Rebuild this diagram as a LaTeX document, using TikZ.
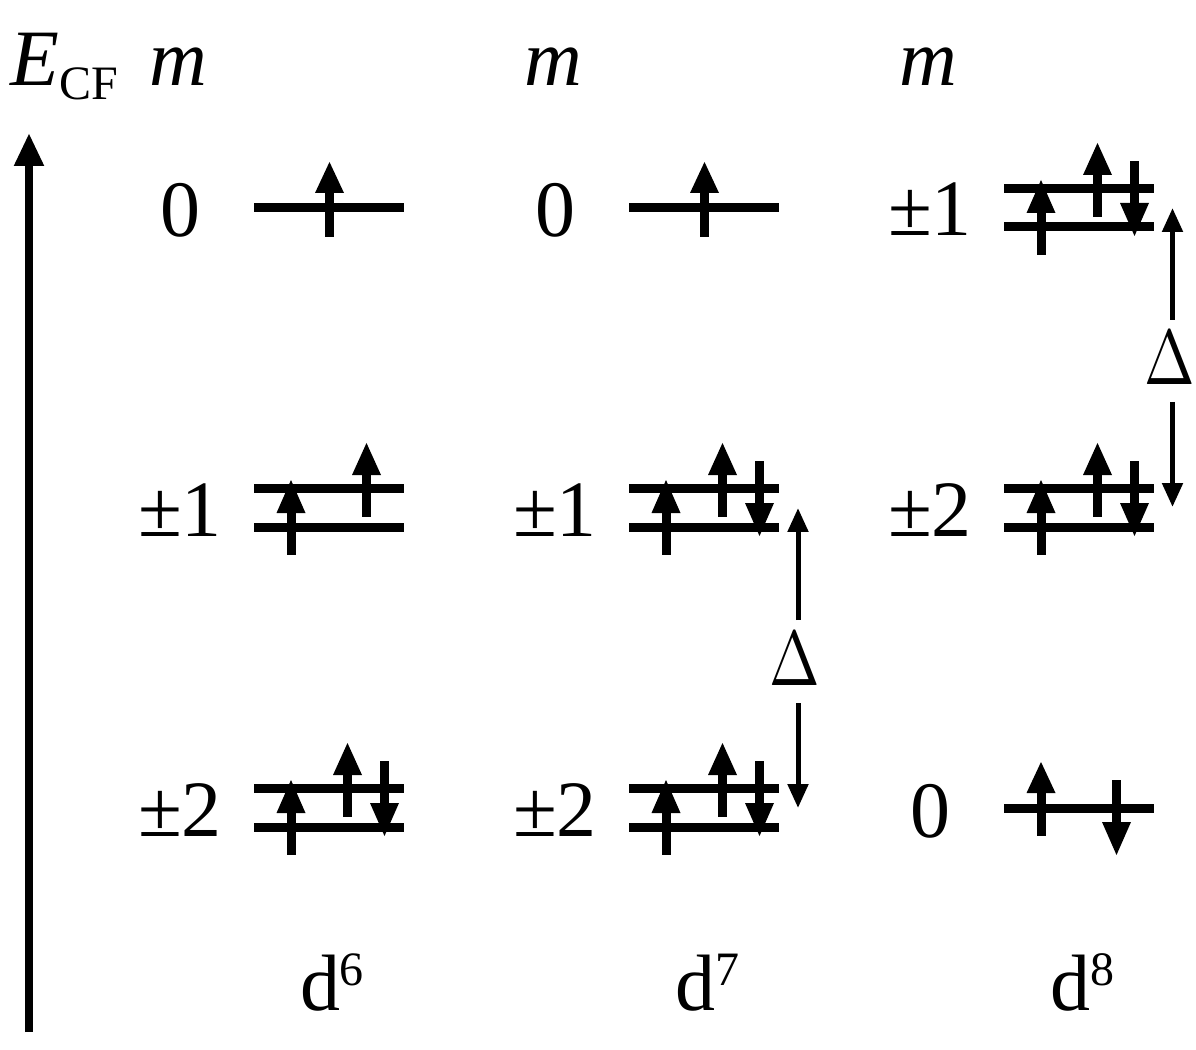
\documentclass[tikz,border=0pt]{standalone}
\usepackage{fontspec}
\setmainfont{Liberation Serif}
\usetikzlibrary{arrows.meta}
\newcommand\spinarrow[4]{% x, stem start, head base, tip
  \fill (#1-4.5,#2) rectangle (#1+4.5,#3);
  \fill (#1-14.5,#3) -- (#1+14.5,#3) -- (#1,#4) -- cycle;}
\newcommand\bigfont{\fontsize{45.5}{50}\selectfont}
\newcommand\smallfont{\fontsize{27.3}{30}\selectfont}
\begin{document}
\begin{tikzpicture}[x=0.02cm,y=-0.02cm,
  level/.style={line width=0.18cm},
  lbl/.style={anchor=base,inner sep=0pt,font=\bigfont},
  dlt/.style={anchor=base,inner sep=0pt,font=\fontsize{10}{12}\selectfont,xscale=3.45,yscale=4.42},
  gap/.style={line width=0.1cm,-{Triangle[width=0.4cm,length=0.48cm]}},
  axis/.style={line width=0.16cm,-{Triangle[width=0.56cm,length=0.66cm]}}]
\useasboundingbox (0,0) rectangle (1196,1050);
% axis
\coordinate (ax0) at (29,1032);
\coordinate (ax1) at (29,133);
\draw[axis] (ax0) -- (ax1);
\node[lbl,anchor=base west] (ecf) at (10,86) {\itshape E\raisebox{-0.28cm}{\upshape\smallfont CF}};
% m headers
\node[lbl] (m6) at (178.5,86) {\itshape m};
\node[lbl] (m7) at (553.5,86) {\itshape m};
\node[lbl] (m8) at (928.5,86) {\itshape m};
% ---------- d6 ----------
\draw[level] (254,208) -- (404,208);
\spinarrow{329.5}{237}{193}{162}
\node[lbl] (l6a) at (180,237) {0};
\draw[level] (254,488.5) -- (404,488.5);
\draw[level] (254,527) -- (404,527);
\spinarrow{291}{555}{513}{480}
\spinarrow{366.5}{517}{475}{443}
\node[lbl] (l6b) at (180,536) {±1};
\draw[level] (254,788.5) -- (404,788.5);
\draw[level] (254,827) -- (404,827);
\spinarrow{291}{855}{813}{780}
\spinarrow{347.5}{817}{775}{743}
\spinarrow{384.5}{761}{803}{836}
\node[lbl] (l6c) at (180,836) {±2};
\node[lbl] (d6) at (332,1010) {d\raisebox{0.5cm}{\smallfont 6}};
% ---------- d7 ----------
\draw[level] (629,208) -- (779,208);
\spinarrow{704.5}{237}{193}{162}
\node[lbl] (l7a) at (555,237) {0};
\draw[level] (629,488.5) -- (779,488.5);
\draw[level] (629,527) -- (779,527);
\spinarrow{666}{555}{513}{480}
\spinarrow{722.5}{517}{475}{443}
\spinarrow{759.5}{461}{503}{536}
\node[lbl] (l7b) at (555,536) {±1};
\draw[level] (629,788.5) -- (779,788.5);
\draw[level] (629,827) -- (779,827);
\spinarrow{666}{855}{813}{780}
\spinarrow{722.5}{817}{775}{743}
\spinarrow{759.5}{761}{803}{836}
\node[lbl] (l7c) at (555,836) {±2};
\node[lbl] (d7) at (707,1010) {d\raisebox{0.5cm}{\smallfont 7}};
% gap d7
\node[dlt] (D7) at (795,685) {$\Delta$};
\coordinate (g7a) at (798,620);
\coordinate (g7at) at (798,508);
\coordinate (g7b) at (798,703);
\coordinate (g7bt) at (798,808);
\draw[gap] (g7a) -- (g7at);
\draw[gap] (g7b) -- (g7bt);
% ---------- d8 ----------
\draw[level] (1004,188.5) -- (1154,188.5);
\draw[level] (1004,227) -- (1154,227);
\spinarrow{1041}{255}{213}{180}
\spinarrow{1097.5}{217}{175}{143}
\spinarrow{1134.5}{161}{203}{236}
\node[lbl] (l8a) at (930,236) {±1};
\draw[level] (1004,488.5) -- (1154,488.5);
\draw[level] (1004,527) -- (1154,527);
\spinarrow{1041}{555}{513}{480}
\spinarrow{1097.5}{517}{475}{443}
\spinarrow{1134.5}{461}{503}{536}
\node[lbl] (l8b) at (930,536) {±2};
\draw[level] (1004,808) -- (1154,808);
\spinarrow{1041}{836}{793}{762}
\spinarrow{1116.5}{780}{822}{855}
\node[lbl] (l8c) at (930,837) {0};
\node[lbl] (d8) at (1082,1010) {d\raisebox{0.5cm}{\smallfont 8}};
% gap d8
\node[dlt] (D8) at (1170,385) {$\Delta$};
\coordinate (g8a) at (1172.5,320);
\coordinate (g8at) at (1172.5,208);
\coordinate (g8b) at (1172.5,402);
\coordinate (g8bt) at (1172.5,507);
\draw[gap] (g8a) -- (g8at);
\draw[gap] (g8b) -- (g8bt);
\end{tikzpicture}
\end{document}
